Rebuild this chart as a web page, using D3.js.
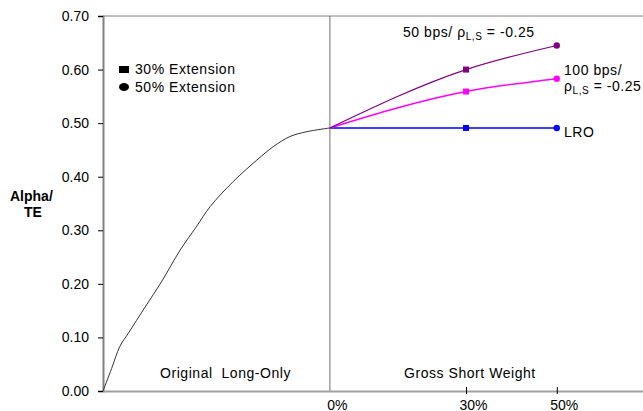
<!DOCTYPE html>
<html>
<head>
    <title>Alpha/TE vs Gross Short Weight</title>
    <script src="https://d3js.org/d3.v7.min.js"></script>
    <style>
        body { margin: 0; background: white; }
        text { font-family: "Liberation Sans", Arial, sans-serif; font-size: 14px; fill: #000; }
        .lbl { letter-spacing: 0.55px; }
    </style>
</head>
<body>
    <div id="chart"></div>

    <script>
        // original long-only curve (left half, x in same % scale)
        const longOnlyX = [-50, -48.1, -46.3, -44.4, -40.7, -37.1, -33.0, -29.4, -26.4, -21.3, -16.1, -12.5, -8.8, -5.1, 0];
        const longOnlyY = [0, 0.042, 0.083, 0.108, 0.157, 0.204, 0.263, 0.307, 0.344, 0.391, 0.431, 0.456, 0.475, 0.484, 0.491];

        // extension series
        const shortWeights = [0, 30, 50];
        const lroValues = [0.491, 0.491, 0.491];
        const bps100Values = [0.491, 0.559, 0.583];
        const bps50Values = [0.491, 0.600, 0.645];

        const yTicks = [0, 0.1, 0.2, 0.3, 0.4, 0.5, 0.6, 0.7];
        const xTicks = [0, 30, 50];

        const width = 643;
        const height = 411;

        const svg = d3.select("#chart")
            .append("svg")
            .attr("width", width)
            .attr("height", height);

        const x = d3.scaleLinear().domain([-50, 69]).range([103, 643]);
        const y = d3.scaleLinear().domain([0, 0.7]).range([391, 16]);

        // top border
        svg.append("line")
            .attr("x1", x(-50)).attr("x2", x(69))
            .attr("y1", y(0.7)).attr("y2", y(0.7))
            .attr("stroke", "#808080").attr("stroke-width", 1);

        // 0% divider
        svg.append("line")
            .attr("x1", x(0)).attr("x2", x(0))
            .attr("y1", y(0.7)).attr("y2", y(0))
            .attr("stroke", "#707070").attr("stroke-width", 1);

        // y axis
        const yAxis = svg.append("g")
            .attr("transform", `translate(${x(-50)},0)`)
            .call(d3.axisLeft(y).tickValues(yTicks).tickFormat(d3.format(".2f")).tickSize(5).tickPadding(9));
        yAxis.attr("font-size", 14).attr("font-family", null);
        yAxis.select(".domain").attr("stroke", "#808080").attr("stroke-width", 2);
        yAxis.selectAll(".tick line").attr("stroke", "#000");

        // x axis
        const xAxis = svg.append("g")
            .attr("transform", `translate(0,${y(0)})`)
            .call(d3.axisBottom(x).tickValues(xTicks).tickFormat(d => d + "%").tickSize(0).tickPadding(9));
        xAxis.attr("font-size", 14).attr("font-family", null);
        xAxis.select(".domain").attr("stroke", "#a0a0a0").attr("stroke-width", 2);
        xAxis.selectAll("text").attr("dx", 7);
        xAxis.selectAll(".tick").filter(d => d !== 0)
            .append("line")
            .attr("y1", -4).attr("y2", 3)
            .attr("stroke", "#000");

        const line = d3.line()
            .x(d => x(d[0]))
            .y(d => y(d[1]))
            .curve(d3.curveCatmullRom);

        // long-only curve
        svg.append("path")
            .datum(longOnlyX.map((v, i) => [v, longOnlyY[i]]))
            .attr("fill", "none")
            .attr("stroke", "#333")
            .attr("stroke-width", 1)
            .attr("d", line);

        const series = [
            { values: lroValues, color: "#0000ff", width: 1.5 },
            { values: bps100Values, color: "#ff00ff", width: 1.5 },
            { values: bps50Values, color: "#800080", width: 1.2 }
        ];

        const smooth = d3.line()
            .x(d => x(d[0]))
            .y(d => y(d[1]))
            .curve(d3.curveMonotoneX);

        series.forEach(s => {
            const pts = shortWeights.map((w, i) => [w, s.values[i]]);
            svg.append("path")
                .datum(pts)
                .attr("fill", "none")
                .attr("stroke", s.color)
                .attr("stroke-width", s.width)
                .attr("d", smooth);
            // square at 30%
            svg.append("rect")
                .attr("x", x(30) - 3).attr("y", y(s.values[1]) - 3)
                .attr("width", 6).attr("height", 6)
                .attr("fill", s.color);
            // circle at 50%
            svg.append("circle")
                .attr("cx", x(50)).attr("cy", y(s.values[2]))
                .attr("r", 3.2)
                .attr("fill", s.color);
        });

        // legend
        svg.append("rect").attr("x", 119).attr("y", 66).attr("width", 10).attr("height", 7).attr("fill", "#000");
        svg.append("text").attr("class", "lbl").attr("x", 135).attr("y", 74).text("30% Extension");
        svg.append("ellipse").attr("cx", 124).attr("cy", 87).attr("rx", 5).attr("ry", 4).attr("fill", "#000");
        svg.append("text").attr("class", "lbl").attr("x", 135).attr("y", 92).text("50% Extension");

        // y title
        svg.append("text").attr("x", 10).attr("y", 201).style("font-weight", "bold").text("Alpha/");
        svg.append("text").attr("x", 24).attr("y", 217).style("font-weight", "bold").text("TE");

        // region labels
        svg.append("text").attr("class", "lbl").attr("x", 160).attr("y", 378).style("white-space", "pre").text("Original  Long-Only");
        svg.append("text").attr("class", "lbl").attr("x", 404).attr("y", 378).text("Gross Short Weight");

        // series labels
        function rhoLabel(sel) {
            sel.append("tspan").text("\u03c1");
            sel.append("tspan").attr("dy", 3).style("font-size", "10px").text("L,S");
            sel.append("tspan").attr("dy", -3).text(" = -0.25");
        }
        const t1 = svg.append("text").attr("class", "lbl").attr("x", 403).attr("y", 37);
        t1.append("tspan").text("50 bps/ ");
        rhoLabel(t1);

        svg.append("text").attr("class", "lbl").attr("x", 564).attr("y", 75).text("100 bps/");
        const t2 = svg.append("text").attr("class", "lbl").attr("x", 564).attr("y", 91);
        rhoLabel(t2);

        svg.append("text").attr("class", "lbl").attr("x", 564).attr("y", 137).text("LRO");
    </script>
</body>
</html>
